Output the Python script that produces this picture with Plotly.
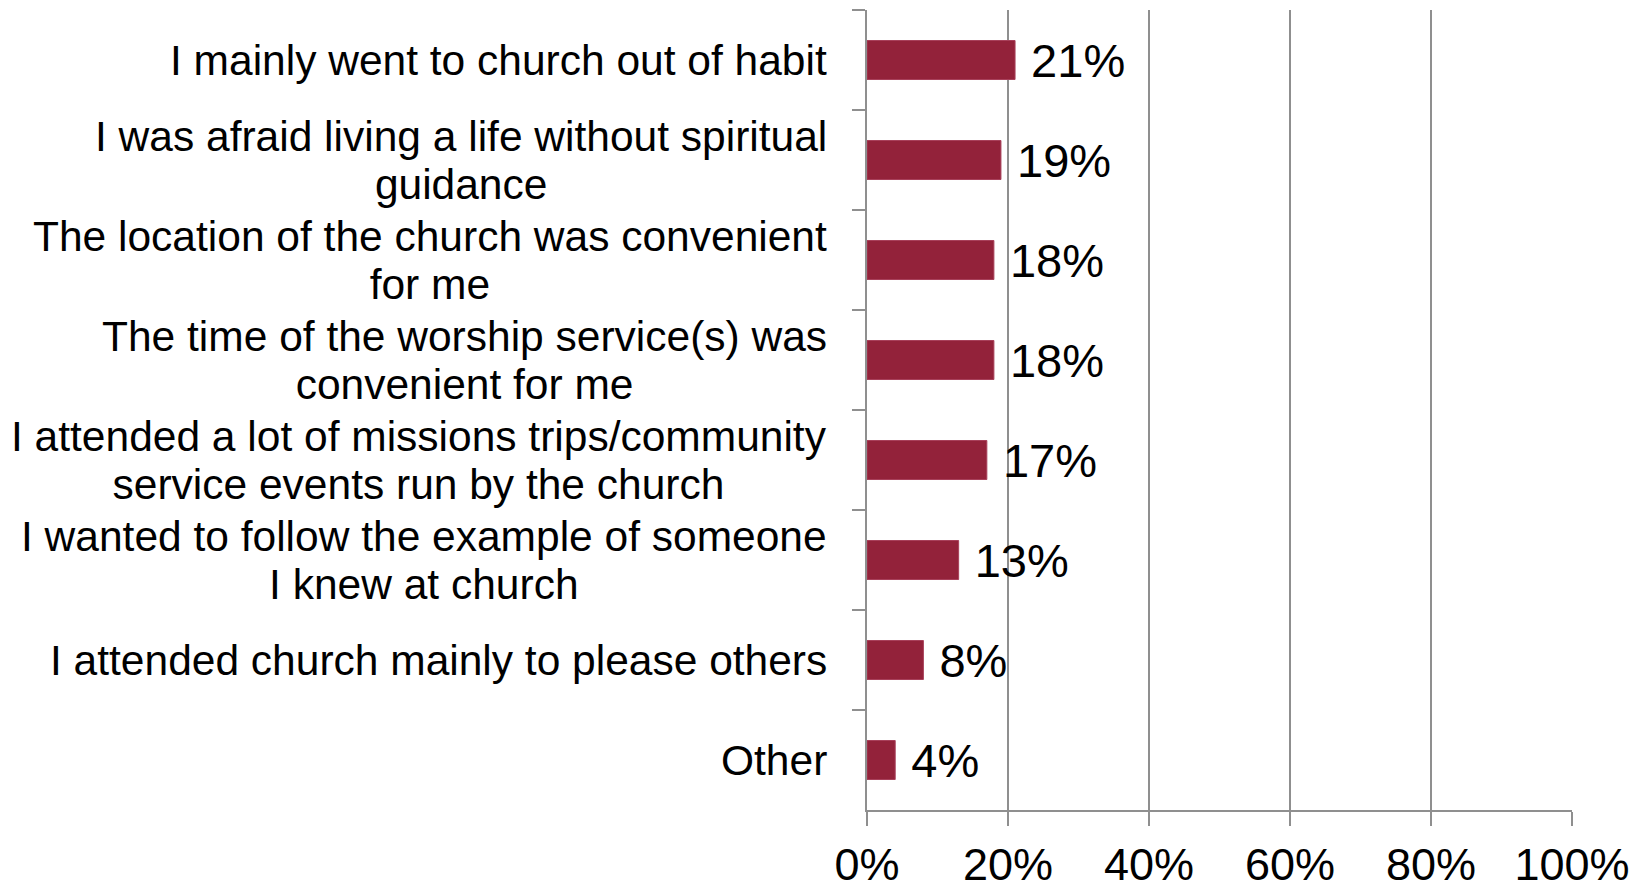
import plotly.graph_objects as go

categories = [
    "I mainly went to church out of habit",
    "I was afraid living a life without spiritual<br>guidance",
    "The location of the church was convenient<br>for me",
    "The time of the worship service(s) was<br>convenient for me",
    "I attended a lot of missions trips/community<br>service events run by the church",
    "I wanted to follow the example of someone<br>I knew at church",
    "I attended church mainly to please others",
    "Other",
]
values = [0.21, 0.19, 0.18, 0.18, 0.17, 0.13, 0.08, 0.04]
value_labels = ["21%", "19%", "18%", "18%", "17%", "13%", "8%", "4%"]
x_ticks = [0, 0.2, 0.4, 0.6, 0.8, 1.0]
x_tick_labels = ["0%", "20%", "40%", "60%", "80%", "100%"]

FONT = "Liberation Sans, Arial, sans-serif"
GRID = "#8f8f8f"
LABEL_SIZE = 42.5
SQUEEZE = 3.5  # px each line moves toward the centre (tighter line spacing)
HIDE = '<span style="color:rgba(0,0,0,0)">{}</span>'

fig = go.Figure(go.Bar(
    y=categories,
    x=values,
    orientation="h",
    marker=dict(color="#93223a", line=dict(color="#a8405a", width=1)),
    text=["\u00a0" + t for t in value_labels],
    textposition="outside",
    constraintext="none",
    textfont=dict(family=FONT, size=47, color="black"),
    cliponaxis=False,
    width=0.39,
    hoverinfo="skip",
))

# Category labels: right-aligned blocks, lines centred within each block
annotations = []
for cat in categories:
    lines = cat.split("<br>")
    n = len(lines)
    for i in range(n):
        parts = [ln if j == i else HIDE.format(ln) for j, ln in enumerate(lines)]
        shift = -((n - 1) / 2 - i) * SQUEEZE * 2 / max(n - 1, 1) if n > 1 else 0
        annotations.append(dict(
            xref="paper", yref="y", x=-0.0539, y=cat,
            text="<br>".join(parts), showarrow=False,
            xanchor="right", yanchor="middle", align="center",
            yshift=shift,
            font=dict(family=FONT, size=LABEL_SIZE, color="black"),
        ))

fig.update_layout(
    width=1635, height=886,
    margin=dict(l=867, r=63, t=10, b=76),
    paper_bgcolor="white", plot_bgcolor="white",
    showlegend=False,
    annotations=annotations,
    xaxis=dict(
        range=[0, 1], tickvals=x_ticks, ticktext=x_tick_labels,
        showgrid=True, gridcolor=GRID, gridwidth=1.5,
        showline=True, linecolor=GRID, linewidth=1.5,
        ticks="outside", ticklen=14, tickcolor=GRID, tickwidth=1.5,
        tickfont=dict(family=FONT, size=45, color="black"),
        ticklabelstandoff=0, zeroline=False, automargin=False,
    ),
    yaxis=dict(
        autorange="reversed",
        showline=True, linecolor=GRID, linewidth=1.5,
        ticks="outside", ticklen=13, tickcolor=GRID, tickwidth=1.5,
        tickson="boundaries", showticklabels=False,
        showgrid=False, automargin=False,
    ),
)

fig.write_html(
    "out.html",
    config={"displayModeBar": False},
    post_script="document.body.style.margin='0px';document.body.style.overflow='hidden';",
)
